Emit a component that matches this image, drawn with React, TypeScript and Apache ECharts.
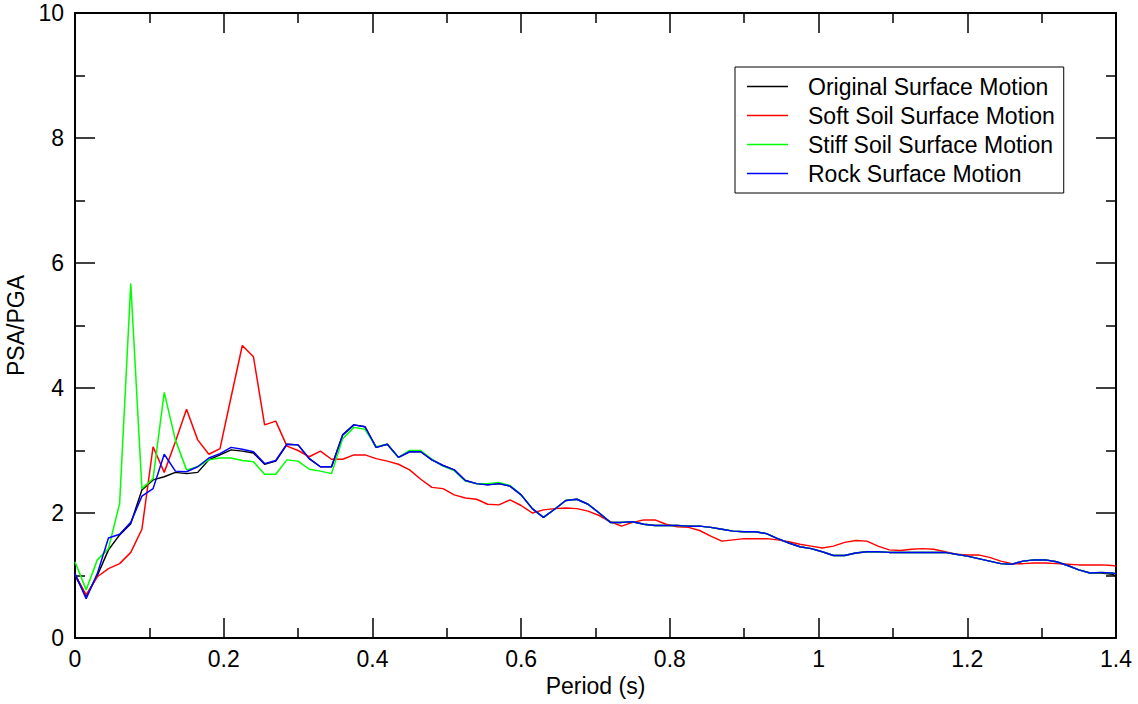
import React, { useEffect, useRef } from "react";
import * as echarts from "echarts";

const periods = [
  0, 0.015, 0.03, 0.045, 0.06, 0.075, 0.09, 0.105, 0.12, 0.135,
  0.15, 0.165, 0.18, 0.195, 0.21, 0.225, 0.24, 0.255, 0.27, 0.285,
  0.3, 0.315, 0.33, 0.345, 0.36, 0.375, 0.39, 0.405, 0.42, 0.435,
  0.45, 0.465, 0.48, 0.495, 0.51, 0.525, 0.54, 0.555, 0.57, 0.585,
  0.6, 0.615, 0.63, 0.645, 0.66, 0.675, 0.69, 0.705, 0.72, 0.735,
  0.75, 0.765, 0.78, 0.795, 0.81, 0.825, 0.84, 0.855, 0.87, 0.885,
  0.9, 0.915, 0.93, 0.945, 0.96, 0.975, 0.99, 1.005, 1.02, 1.035,
  1.05, 1.065, 1.08, 1.095, 1.11, 1.125, 1.14, 1.155, 1.17, 1.185,
  1.2, 1.215, 1.23, 1.245, 1.26, 1.275, 1.29, 1.305, 1.32, 1.335,
  1.35, 1.365, 1.38, 1.395, 1.4,
];

const rockValues = [
  1.03, 0.63, 1.03, 1.6, 1.66, 1.85, 2.27, 2.39, 2.94, 2.67,
  2.66, 2.74, 2.88, 2.95, 3.05, 3.02, 2.98, 2.79, 2.84, 3.1,
  3.09, 2.87, 2.74, 2.74, 3.25, 3.41, 3.38, 3.05, 3.1, 2.89,
  2.98, 2.98, 2.85, 2.76, 2.69, 2.52, 2.47, 2.45, 2.47, 2.43,
  2.29, 2.07, 1.93, 2.06, 2.2, 2.22, 2.14, 2.0, 1.85, 1.85,
  1.86, 1.82, 1.8, 1.8, 1.8, 1.79, 1.79, 1.77, 1.74, 1.71,
  1.7, 1.7, 1.67, 1.59, 1.52, 1.46, 1.43, 1.38, 1.32, 1.32,
  1.36, 1.38, 1.38, 1.37, 1.37, 1.37, 1.37, 1.37, 1.37, 1.34,
  1.31, 1.27, 1.23, 1.19, 1.18, 1.23, 1.25, 1.25, 1.22, 1.16,
  1.09, 1.04, 1.05, 1.04, 1.03,
];

const originalValues = [
  1.0, 0.67, 1.0, 1.41, 1.65, 1.83, 2.37, 2.53, 2.58, 2.65,
  2.63, 2.65, 2.85, 2.93, 3.01, 2.99, 2.96, 2.78, 2.83, 3.1,
  3.09, 2.87, 2.74, 2.74, 3.25, 3.41, 3.38, 3.05, 3.1, 2.89,
  2.98, 2.98, 2.85, 2.76, 2.69, 2.52, 2.47, 2.45, 2.47, 2.43,
  2.29, 2.07, 1.93, 2.06, 2.2, 2.22, 2.14, 2.0, 1.85, 1.85,
  1.86, 1.82, 1.8, 1.8, 1.8, 1.79, 1.79, 1.77, 1.74, 1.71,
  1.7, 1.7, 1.67, 1.59, 1.52, 1.46, 1.43, 1.38, 1.32, 1.32,
  1.36, 1.38, 1.38, 1.37, 1.37, 1.37, 1.37, 1.37, 1.37, 1.34,
  1.31, 1.27, 1.23, 1.19, 1.18, 1.23, 1.25, 1.25, 1.22, 1.16,
  1.09, 1.04, 1.04, 1.02, 0.99,
];

const softValues = [
  1.02, 0.69, 0.98, 1.11, 1.19, 1.37, 1.74, 3.06, 2.65, 3.14,
  3.66, 3.17, 2.94, 3.03, 3.86, 4.68, 4.5, 3.41, 3.47, 3.07,
  3.0, 2.9, 2.99, 2.86, 2.86, 2.93, 2.93, 2.87, 2.83, 2.78,
  2.69, 2.54, 2.41, 2.39, 2.29, 2.24, 2.22, 2.14, 2.13, 2.21,
  2.12, 2.0, 2.05, 2.07, 2.08, 2.07, 2.03, 1.96, 1.86, 1.79,
  1.85, 1.89, 1.89, 1.82, 1.78, 1.77, 1.72, 1.63, 1.55, 1.57,
  1.59, 1.59, 1.59, 1.57, 1.54, 1.5, 1.47, 1.44, 1.47, 1.53,
  1.56, 1.55, 1.47, 1.41, 1.4, 1.42, 1.43, 1.42, 1.38, 1.34,
  1.33, 1.33, 1.29, 1.23, 1.19, 1.19, 1.2, 1.2, 1.19, 1.18,
  1.17, 1.17, 1.17, 1.16, 1.15,
];

const stiffValues = [
  1.22, 0.77, 1.25, 1.43, 2.15, 5.67, 2.39, 2.55, 3.93, 3.17,
  2.69, 2.74, 2.85, 2.88, 2.88, 2.84, 2.82, 2.62, 2.62, 2.85,
  2.83, 2.7, 2.67, 2.63, 3.19, 3.37, 3.34, 3.06, 3.1, 2.89,
  3.0, 3.0, 2.86, 2.75, 2.68, 2.51, 2.47, 2.47, 2.49, 2.44,
  2.29, 2.07, 1.93, 2.06, 2.2, 2.22, 2.14, 2.0, 1.85, 1.85,
  1.86, 1.82, 1.8, 1.8, 1.8, 1.79, 1.79, 1.77, 1.74, 1.71,
  1.7, 1.7, 1.67, 1.59, 1.52, 1.46, 1.43, 1.38, 1.32, 1.32,
  1.36, 1.38, 1.38, 1.37, 1.37, 1.37, 1.37, 1.37, 1.37, 1.34,
  1.31, 1.27, 1.23, 1.19, 1.18, 1.23, 1.25, 1.25, 1.22, 1.16,
  1.09, 1.04, 1.05, 1.04, 1.03,
];

const seriesNames = [
  "Original Surface Motion",
  "Soft Soil Surface Motion",
  "Stiff Soil Surface Motion",
  "Rock Surface Motion",
];
const seriesColors = ["#000000", "#ff0000", "#00ff00", "#0000ff"];
const seriesValues = [originalValues, softValues, stiffValues, rockValues];

const FONT = "Liberation Sans, Arial, Helvetica, sans-serif";
const FS = 23;

function axisLine() {
  return { show: true, onZero: false, lineStyle: { color: "#000", width: 2 } };
}
function axisTick() {
  return { show: true, inside: true, length: 20, lineStyle: { color: "#000", width: 1.5 } };
}
function minorTick() {
  return { show: true, splitNumber: 2, length: 10, lineStyle: { color: "#000", width: 1.5 } };
}

export default function App() {
  const ref = useRef<HTMLDivElement>(null);

  useEffect(() => {
    if (!ref.current) return;
    const chart = echarts.init(ref.current, null, { renderer: "svg" });

    const xAxisCommon = () => ({
      type: "value" as const,
      min: 0,
      max: 1.4,
      interval: 0.2,
      axisLine: axisLine(),
      axisTick: axisTick(),
      minorTick: minorTick(),
      splitLine: { show: false },
      minorSplitLine: { show: false },
    });
    const yAxisCommon = () => ({
      type: "value" as const,
      min: 0,
      max: 10,
      interval: 2,
      axisLine: axisLine(),
      axisTick: axisTick(),
      minorTick: minorTick(),
      splitLine: { show: false },
      minorSplitLine: { show: false },
    });

    chart.setOption({
      animation: false,
      backgroundColor: "#ffffff",
      grid: {
        left: 75,
        right: 22,
        top: 13,
        bottom: 66,
        containLabel: false,
        outerBoundsMode: "none",
      },
      legend: {
        orient: "vertical",
        left: 735,
        top: 67,
        padding: [8, 9, 8, 12],
        itemGap: 6,
        itemWidth: 41,
        itemHeight: 1.5,
        icon: "rect",
        borderColor: "#000",
        borderWidth: 1,
        borderRadius: 0,
        backgroundColor: "#fff",
        data: seriesNames,
        textStyle: {
          fontFamily: FONT,
          fontSize: FS,
          color: "#000",
          padding: [0, 0, 0, 15],
        },
      },
      xAxis: [
        {
          ...xAxisCommon(),
          position: "bottom",
          name: "Period (s)",
          nameLocation: "middle",
          nameGap: 35,
          nameTextStyle: { fontFamily: FONT, fontSize: FS, color: "#000" },
          axisLabel: {
            fontFamily: FONT,
            fontSize: FS,
            color: "#000",
            margin: 9,
            formatter: (v: number) => String(Math.round(v * 10) / 10),
          },
        },
        {
          ...xAxisCommon(),
          position: "top",
          axisLabel: { show: false },
        },
      ],
      yAxis: [
        {
          ...yAxisCommon(),
          position: "left",
          name: "PSA/PGA",
          nameLocation: "middle",
          nameGap: 41,
          nameTextStyle: { fontFamily: FONT, fontSize: FS, color: "#000" },
          axisLabel: { fontFamily: FONT, fontSize: FS, color: "#000", margin: 11 },
        },
        {
          ...yAxisCommon(),
          position: "right",
          axisLabel: { show: false },
        },
      ],
      series: seriesNames.map((name, k) => ({
        name,
        type: "line",
        xAxisIndex: 0,
        yAxisIndex: 0,
        showSymbol: false,
        symbol: "none",
        color: seriesColors[k],
        itemStyle: { color: seriesColors[k] },
        lineStyle: { color: seriesColors[k], width: 1.5 },
        data: periods.map((p, i) => [p, seriesValues[k][i]]),
        clip: true,
      })),
    });

    return () => chart.dispose();
  }, []);

  return <div ref={ref} style={{ width: 1138, height: 704, position: "absolute", left: 0, top: 0 }} />;
}
